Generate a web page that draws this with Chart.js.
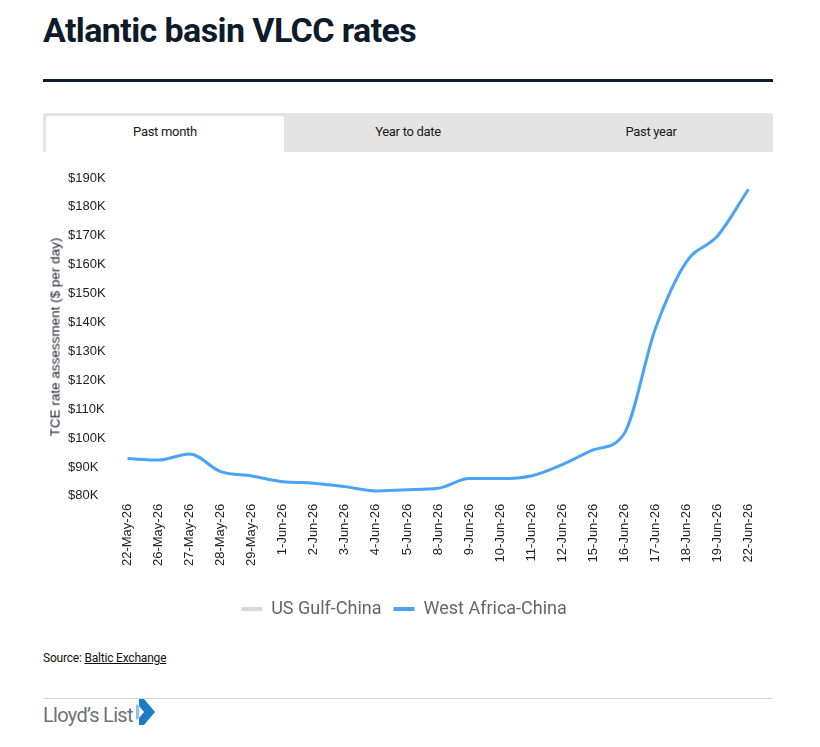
<!DOCTYPE html>
<html>
<head>
<meta charset="utf-8">
<script src="https://cdn.jsdelivr.net/npm/chart.js@4/dist/chart.umd.min.js"></script>
<style>
  body { margin: 0; background: #fff; font-family: Roboto, "Liberation Sans", sans-serif; }
  .wrap { position: relative; width: 820px; height: 747px; }
  h1 { position: absolute; left: 43px; top: 10px; margin: 0; font-size: 34px; font-weight: 700; color: #0d1b2a; letter-spacing: -0.6px; }
  .rule { position: absolute; left: 43px; top: 79px; width: 730px; height: 3px; background: #0f1e2d; }
  .tabs { position: absolute; left: 43px; top: 113px; width: 730px; height: 39px; background: #e4e4e4; border-radius: 3px 3px 0 0; }
  .tab { position: absolute; top: 3px; height: 36px; line-height: 32px; text-align: center; font-size: 13px; color: #1a1a1a; letter-spacing: -0.3px; }
  .tab.active { background: #fff; border-radius: 3px 3px 0 0; }
  .chart-box { position: absolute; left: 43px; top: 152px; width: 730px; height: 476px; }
  .y-title { position: absolute; left: 55px; top: 337px; transform: translate(-50%, -50%) rotate(-90deg); white-space: nowrap; font-family: "Liberation Sans", sans-serif; font-size: 13.5px; color: #17202c; }
  .source { position: absolute; left: 43px; top: 651px; font-size: 12px; color: #111; letter-spacing: -0.2px; }
  .source a { color: #111; text-decoration: underline; }
  .footline { position: absolute; left: 43px; top: 698px; width: 730px; height: 1px; background: #d6d6d6; }
  .logo { position: absolute; left: 43px; top: 703px; font-size: 20px; color: #6d717c; letter-spacing: -0.7px; }
  .logo svg { position: absolute; left: 93px; top: -4px; }
</style>
</head>
<body>
<div class="wrap">
  <h1>Atlantic basin VLCC rates</h1>
  <div class="rule"></div>
  <div class="tabs">
    <div class="tab active" style="left:3px;width:238px;">Past month</div>
    <div class="tab" style="left:245px;width:240px;">Year to date</div>
    <div class="tab" style="left:488px;width:240px;">Past year</div>
  </div>
  <div class="chart-box"><canvas id="rateChart"></canvas></div>
  <div class="y-title">TCE rate assessment ($ per day)</div>
  <div class="source">Source: <a>Baltic Exchange</a></div>
  <div class="footline"></div>
  <div class="logo">Lloyd’s List
    <svg width="20" height="28" viewBox="0 0 20 28">
      <polygon points="3,0 8,0 19,13 8,26 3,26 3,19 8,13 3,7" fill="#1b7cc4"/>
      <polygon points="0,5 3,7 3,19 0,21" fill="#8cc0e6"/>
    </svg>
  </div>
</div>
<script>
// data
const dates = ["22-May-26", "26-May-26", "27-May-26", "28-May-26", "29-May-26", "1-Jun-26", "2-Jun-26",
  "3-Jun-26", "4-Jun-26", "5-Jun-26", "8-Jun-26", "9-Jun-26", "10-Jun-26", "11-Jun-26", "12-Jun-26",
  "15-Jun-26", "16-Jun-26", "17-Jun-26", "18-Jun-26", "19-Jun-26", "22-Jun-26"];
const usGulfChina = [];
const westAfricaChina = [92900, 92400, 94500, 88400, 86900, 84900, 84400, 83200, 81700, 82100, 82600,
  86000, 86000, 86900, 90800, 95900, 101600, 137800, 161000, 169900, 186100];
const yMin = 80000;
const yMax = 190000;
const yStep = 10000;

//==========================================================================
// legend sits centred on the whole box, not only the plot part
const legendShift = {
  id: "legendShift",
  afterLayout(chart) {
    chart.legend.left -= 12;
    chart.legend.right -= 12;
  },
};

//==========================================================================
// chart
const ctx = document.getElementById("rateChart");
const rateChart = new Chart(ctx, {
  type: "line",
  data: {
    labels: dates,
    datasets: [
      {
        label: "US Gulf-China",
        data: usGulfChina,
        borderColor: "#d9d9d9",
        backgroundColor: "#d9d9d9",
        borderWidth: 3,
        pointRadius: 0,
      },
      {
        label: "West Africa-China",
        data: westAfricaChina,
        borderColor: "#4ba3f6",
        backgroundColor: "#4ba3f6",
        borderWidth: 3,
        pointRadius: 0,
        cubicInterpolationMode: "monotone",
      },
    ],
  },
  plugins: [legendShift],
  options: {
    responsive: true,
    maintainAspectRatio: false,
    animation: false,
    layout: { padding: { left: 25, top: 26, right: 9, bottom: 0 } },
    scales: {
      x: {
        offset: true,
        grid: { display: false },
        border: { display: false },
        afterFit: (axis) => {
          axis.height += 22;
        },
        ticks: {
          color: "#222",
          font: { family: "Liberation Sans", size: 13 },
          maxRotation: 90,
          minRotation: 90,
          autoSkip: false,
          padding: 0,
        },
      },
      y: {
        min: yMin,
        max: yMax,
        grid: { display: false },
        border: { display: false },
        afterFit: (axis) => {
          axis.width = 44;
        },
        ticks: {
          stepSize: yStep,
          color: "#222",
          crossAlign: "far",
          padding: 6,
          font: { family: "Liberation Sans", size: 13 },
          callback: (v) => "$" + v / 1000 + "K",
        },
      },
    },
    plugins: {
      tooltip: { enabled: false },
      legend: {
        display: true,
        position: "bottom",
        labels: {
          color: "#666",
          boxWidth: 21,
          boxHeight: 4,
          padding: 12,
          font: { family: "Roboto", size: 18 },
          generateLabels: (chart) =>
            Chart.defaults.plugins.legend.labels.generateLabels(chart).map((l) => {
              l.lineWidth = 0;
              return l;
            }),
        },
      },
    },
  },
});
</script>
</body>
</html>
